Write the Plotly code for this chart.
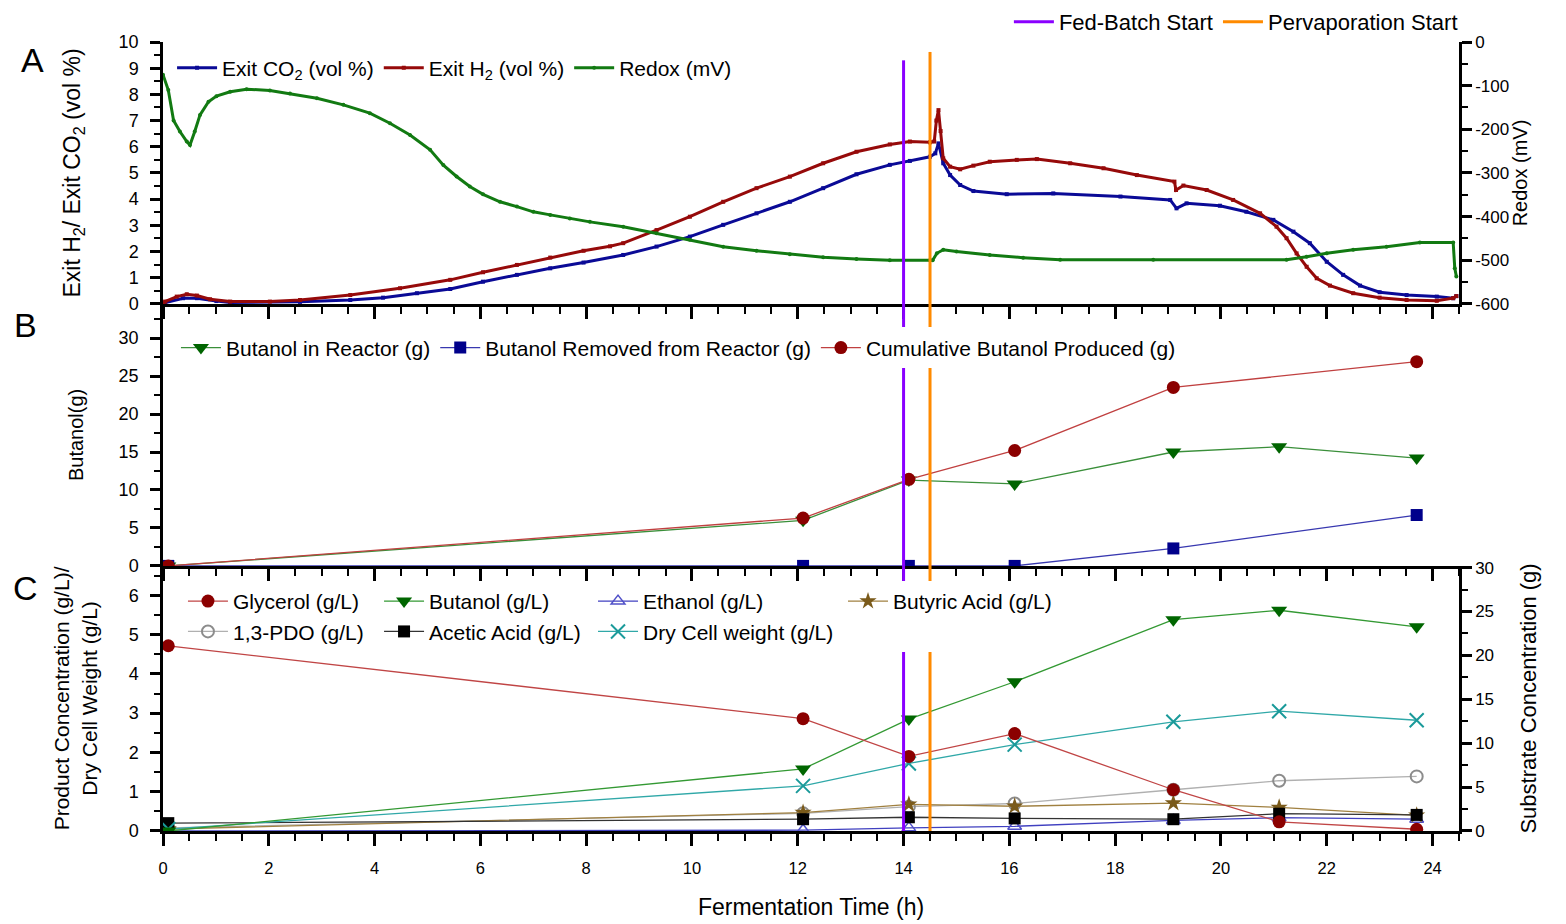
import plotly.graph_objects as go

FONT = "Liberation Sans, Arial, sans-serif"

# ---------------- Panel A: off-gas and redox (continuous) ----------------
T_CO2 = [0.0, 0.04, 0.38, 0.64, 1.01, 1.27, 2.59, 3.54, 4.16, 4.8, 5.43, 6.05, 6.69, 7.32, 7.95,
         8.7, 9.33, 9.96, 10.59, 11.22, 11.85, 12.48, 13.11, 13.74, 14.12, 14.5, 14.6, 14.66,
         14.75, 14.88, 15.07, 15.32, 15.95, 16.83, 18.1, 19.04, 19.16, 19.35, 19.98, 20.48,
         20.99, 21.37, 21.68, 22.0, 22.31, 22.63, 23.0, 23.51, 24.08, 24.39, 24.45]
CO2 = [0.0, 0.05, 0.22, 0.22, 0.11, 0.06, 0.08, 0.15, 0.24, 0.41, 0.57, 0.85, 1.11, 1.36, 1.58,
       1.87, 2.19, 2.57, 3.02, 3.46, 3.9, 4.42, 4.95, 5.31, 5.46, 5.62, 5.75, 6.13,
       5.37, 4.92, 4.54, 4.31, 4.19, 4.22, 4.1, 3.97, 3.65, 3.84, 3.75, 3.52,
       3.21, 2.76, 2.32, 1.61, 1.11, 0.7, 0.45, 0.34, 0.28, 0.22, 0.3]

T_H2 = [0.0, 0.04, 0.26, 0.45, 0.64, 0.89, 1.27, 2.02, 2.59, 3.54, 4.48, 5.43, 6.05, 6.69, 7.32,
        7.95, 8.45, 8.7, 9.33, 9.96, 10.59, 11.22, 11.85, 12.48, 13.11, 13.74, 14.12, 14.5,
        14.58, 14.62, 14.66, 14.7, 14.75, 14.88, 15.07, 15.32, 15.63, 16.14, 16.52, 17.15,
        17.78, 18.41, 19.12, 19.15, 19.29, 19.73, 20.23, 20.74, 21.05, 21.24, 21.43, 21.62,
        21.81, 22.06, 22.5, 23.0, 23.51, 24.08, 24.39, 24.45]
H2 = [0.0, 0.09, 0.28, 0.37, 0.32, 0.18, 0.09, 0.09, 0.15, 0.34, 0.6, 0.92, 1.21, 1.49, 1.77,
      2.03, 2.2, 2.32, 2.82, 3.33, 3.9, 4.42, 4.86, 5.37, 5.81, 6.09, 6.2, 6.17,
      6.2, 7.0, 7.4, 6.6, 5.56, 5.24, 5.14, 5.28, 5.43, 5.5, 5.53, 5.37,
      5.18, 4.92, 4.67, 4.35, 4.52, 4.35, 3.97, 3.46, 2.95, 2.51, 1.93, 1.42,
      0.98, 0.7, 0.41, 0.24, 0.15, 0.12, 0.22, 0.3]

T_REDOX = [0.0, 0.1, 0.2, 0.32, 0.45, 0.51, 0.6, 0.7, 0.86, 1.01, 1.27, 1.58, 2.02, 2.4, 2.91,
           3.41, 3.91, 4.29, 4.67, 5.05, 5.3, 5.55, 5.8, 6.05, 6.37, 6.69, 7.0, 7.32, 7.69,
           8.07, 8.7, 9.33, 9.96, 10.59, 11.22, 11.85, 12.48, 13.11, 13.74, 14.5, 14.55,
           14.63, 14.75, 15.0, 15.63, 16.26, 16.96, 18.72, 21.24, 21.62, 22.0, 22.5, 23.13,
           23.76, 24.39, 24.42, 24.45]
REDOX = [-75, -110, -180, -205, -228, -236, -205, -167, -137, -124, -114, -108, -111, -118, -129,
         -144, -163, -186, -213, -247, -282, -308, -331, -349, -366, -377, -389, -396, -404,
         -412, -423, -438, -453, -469, -478, -486, -493, -497, -500, -500, -500,
         -484, -476, -480, -488, -494, -499, -499, -499, -492, -484, -476, -469,
         -459, -459, -518, -537]

REDOX_TICKS = [0, -100, -200, -300, -400, -500, -600]
REDOX_TICK_LABELS = ["0", "-100", "-200", "-300", "-400", "-500", "-600"]

# ---------------- Panel B: butanol mass balance ----------------
T_B = [0.1, 12.1, 14.1, 16.1, 19.1, 21.1, 23.7]
BU_REACTOR = [0.0, 6.0, 11.3, 10.8, 15.0, 15.7, 14.2]
T_REMOVED = [0.1, 12.1, 14.1, 16.1, 19.1, 23.7]
BU_REMOVED = [0.0, 0.0, 0.0, 0.0, 2.3, 6.7]
T_CUM = [0.1, 12.1, 14.1, 16.1, 19.1, 23.7]
BU_CUM = [0.0, 6.3, 11.4, 15.2, 23.5, 26.9]

# ---------------- Panel C: concentrations ----------------
T_C = [0.1, 12.1, 14.1, 16.1, 19.1, 21.1, 23.7]
GLYCEROL_G = [21.1, 12.8, 8.5, 11.1, 4.7, 1.05, 0.2]   # right axis (g)
BUTANOL = [0.0, 1.58, 2.85, 3.8, 5.38, 5.62, 5.2]
ETHANOL = [0.0, 0.02, 0.08, 0.12, 0.27, 0.34, 0.3]
BUTYRIC = [0.05, 0.47, 0.68, 0.63, 0.71, 0.6, 0.4]
PDO = [0.08, 0.45, 0.62, 0.7, 1.05, 1.28, 1.39]
ACETIC = [0.2, 0.3, 0.35, 0.32, 0.3, 0.44, 0.41]
DCW = [0.05, 1.15, 1.72, 2.2, 2.78, 3.05, 2.82]

EVENT_NAMES = ["Fed-Batch Start", "Pervaporation Start"]
EVENT_TIMES = [14.0, 14.5]
EVENT_COLORS = ["#8a00ff", "#ff8a00"]

fig = go.Figure()

# Event legend (top)
for name, col in zip(EVENT_NAMES, EVENT_COLORS):
    fig.add_trace(go.Scatter(x=[None], y=[None], mode="lines", name=name,
                             line=dict(color=col, width=3), legend="legend",
                             xaxis="x", yaxis="y"))

# Panel A
fig.add_trace(go.Scatter(x=T_CO2, y=CO2, mode="lines+markers", name="Exit CO<sub>2</sub> (vol %)",
                         line=dict(color="#0a0a96", width=3),
                         marker=dict(symbol="square", size=4, color="#0a0a96"),
                         legend="legend2", xaxis="x", yaxis="y"))
fig.add_trace(go.Scatter(x=T_H2, y=H2, mode="lines+markers", name="Exit H<sub>2</sub> (vol %)",
                         line=dict(color="#960a0a", width=3),
                         marker=dict(symbol="square", size=4, color="#960a0a"),
                         legend="legend2", xaxis="x", yaxis="y"))
fig.add_trace(go.Scatter(x=T_REDOX, y=REDOX, mode="lines+markers", name="Redox (mV)",
                         line=dict(color="#127a12", width=3),
                         marker=dict(symbol="circle", size=4, color="#127a12"),
                         legend="legend2", xaxis="x", yaxis="y2"))

# Panel B
fig.add_trace(go.Scatter(x=T_B, y=BU_REACTOR, mode="lines+markers", name="Butanol in Reactor (g)",
                         line=dict(color="#3a8f3a", width=1.3),
                         marker=dict(symbol="triangle-down", size=14, color="#006400"),
                         legend="legend3", xaxis="x2", yaxis="y3"))
fig.add_trace(go.Scatter(x=T_REMOVED, y=BU_REMOVED, mode="lines+markers",
                         name="Butanol Removed from Reactor (g)",
                         line=dict(color="#3838b0", width=1.3),
                         marker=dict(symbol="square", size=12, color="#00008b"),
                         legend="legend3", xaxis="x2", yaxis="y3"))
fig.add_trace(go.Scatter(x=T_CUM, y=BU_CUM, mode="lines+markers", name="Cumulative Butanol Produced (g)",
                         line=dict(color="#c04040", width=1.3),
                         marker=dict(symbol="circle", size=13, color="#8b0000"),
                         legend="legend3", xaxis="x2", yaxis="y3"))

# Panel C
fig.add_trace(go.Scatter(x=T_C, y=PDO, mode="lines+markers", name="1,3-PDO (g/L)",
                         line=dict(color="#b0b0b0", width=1.3),
                         marker=dict(symbol="circle-open", size=12, color="#8c8c8c", line=dict(width=2)),
                         legend="legend4", xaxis="x3", yaxis="y5"))
fig.add_trace(go.Scatter(x=T_C, y=ETHANOL, mode="lines+markers", name="Ethanol (g/L)",
                         line=dict(color="#4040c0", width=1.3),
                         marker=dict(symbol="triangle-up-open", size=12, color="#5050c8", line=dict(width=1.5)),
                         legend="legend6", xaxis="x3", yaxis="y5"))
fig.add_trace(go.Scatter(x=T_C, y=BUTYRIC, mode="lines+markers", name="Butyric Acid (g/L)",
                         line=dict(color="#a08040", width=1.3),
                         marker=dict(symbol="star", size=13, color="#7a5a1a"),
                         legend="legend7", xaxis="x3", yaxis="y5"))
fig.add_trace(go.Scatter(x=T_C, y=ACETIC, mode="lines+markers", name="Acetic Acid (g/L)",
                         line=dict(color="#333333", width=1.3),
                         marker=dict(symbol="square", size=12, color="#000000"),
                         legend="legend5", xaxis="x3", yaxis="y5"))
fig.add_trace(go.Scatter(x=T_C, y=DCW, mode="lines+markers", name="Dry Cell weight (g/L)",
                         line=dict(color="#30a8a8", width=1.3),
                         marker=dict(symbol="x-thin", size=14, color="#1a9a9a",
                                     line=dict(width=2, color="#1a9a9a")),
                         legend="legend6", xaxis="x3", yaxis="y5"))
fig.add_trace(go.Scatter(x=T_C, y=BUTANOL, mode="lines+markers", name="Butanol (g/L)",
                         line=dict(color="#339933", width=1.3),
                         marker=dict(symbol="triangle-down", size=14, color="#006600"),
                         legend="legend5", xaxis="x3", yaxis="y5"))
fig.add_trace(go.Scatter(x=T_C, y=GLYCEROL_G, mode="lines+markers", name="Glycerol (g/L)",
                         line=dict(color="#c04545", width=1.3),
                         marker=dict(symbol="circle", size=13, color="#8b0000"),
                         legend="legend4", xaxis="x3", yaxis="y6"))
# blank row filler so that the Butyric legend box spans both rows
fig.add_trace(go.Scatter(x=[None], y=[None], mode="lines", name=" ",
                         line=dict(color="rgba(0,0,0,0)", width=1),
                         legend="legend7", xaxis="x3", yaxis="y5", hoverinfo="skip"))

# Event lines
shapes = []
for t, col in zip(EVENT_TIMES, EVENT_COLORS):
    top_a = 0.93 if t < 14.25 else 0.962
    shapes.append(dict(type="line", xref="x", yref="y domain", x0=t, x1=t, y0=0, y1=top_a,
                       line=dict(color=col, width=3)))
    shapes.append(dict(type="line", xref="x2", yref="y3 domain", x0=t, x1=t, y0=0, y1=1,
                       line=dict(color=col, width=3)))
    shapes.append(dict(type="line", xref="x3", yref="y5 domain", x0=t, x1=t, y0=0, y1=1,
                       line=dict(color=col, width=3)))

XR = [0, 24.5]


def tf(size):
    return dict(family=FONT, size=size, color="black")


def xax(anchor, labels=False, side="bottom", ticks="outside", overlay=None):
    d = dict(range=XR, anchor=anchor, domain=[0, 1], showline=True, linewidth=2.5, linecolor="black",
             ticks=ticks, ticklen=12, tickwidth=2.5, tickcolor="black", dtick=2, tick0=0,
             showticklabels=labels, tickfont=tf(16.5), showgrid=False, zeroline=False,
             automargin=False, side=side,
             minor=dict(dtick=0.5, ticklen=7, tickwidth=2, tickcolor="black", ticks=ticks))
    if overlay:
        d["overlaying"] = overlay
    return d


def yax(dom, rng, dtick, minor, side="left", overlay=None, anchor="x", labels=True, title=None,
        standoff=10, tsize=20, ksize=18, lstand=0):
    d = dict(range=rng, domain=dom, anchor=anchor, side=side, showline=True, linewidth=2.5,
             linecolor="black", ticks="outside", ticklen=10, tickwidth=2.5, tickcolor="black",
             dtick=dtick, tick0=0, showticklabels=labels, tickfont=tf(ksize), showgrid=False,
             zeroline=False, automargin=False, ticklabelstandoff=lstand,
             minor=dict(dtick=minor, ticklen=6, tickwidth=2, tickcolor="black", ticks="outside"))
    if overlay:
        d["overlaying"] = overlay
    if title:
        d["title"] = dict(text=title, font=tf(tsize), standoff=standoff)
    return d


DA = [0.668, 1.0]
DB = [0.336, 0.668]
DC = [0.0, 0.336]

yaxis2 = yax(DA, [-600, 0], 100, 50, side="right", overlay="y", title="Redox (mV)", standoff=4,
             tsize=20, ksize=17)
yaxis2.update(tickmode="array", tickvals=REDOX_TICKS, ticktext=REDOX_TICK_LABELS)

xaxis3 = xax("y5", labels=True)
xaxis3.update(ticklabelstandoff=8,
              title=dict(text="Fermentation Time (h)", font=tf(23), standoff=24))

CLEAR = "rgba(255,255,255,0)"


def leg(x, y, xanchor="left", yanchor="middle", orientation="v", size=21, bg="white", order="normal"):
    return dict(orientation=orientation, x=x, xanchor=xanchor, y=y, yanchor=yanchor,
                font=tf(size), bgcolor=bg, itemwidth=40, traceorder=order, itemclick=False)


def letter(txt, x, y):
    return dict(text=txt, x=x, y=y, xref="paper", yref="paper", showarrow=False,
                xanchor="center", yanchor="middle", font=tf(34))


# the page body adds an 8 px offset, so the figure is drawn 8 px smaller and margins are adjusted
fig.update_layout(
    width=1558, height=916,
    margin=dict(l=155, r=107, t=34, b=93, autoexpand=False),
    paper_bgcolor="white", plot_bgcolor="white",
    font=dict(family=FONT, size=19, color="black"),
    showlegend=True,
    xaxis=xax("y"),
    xaxis4=xax("y", side="top", ticks="inside", overlay="x"),
    xaxis2=xax("y3"),
    xaxis3=xaxis3,
    yaxis=yax(DA, [0, 10], 1, 0.5,
              title="Exit H<sub>2</sub>/ Exit CO<sub>2</sub> (vol %)", standoff=32, tsize=23, lstand=8),
    yaxis2=yaxis2,
    yaxis3=yax(DB, [0, 34.5], 5, 2.5, anchor="x2", title="Butanol(g)", standoff=30, tsize=20, lstand=8),
    yaxis4=yax(DB, [0, 13.1], 2, 1, side="right", overlay="y3", anchor="x2", labels=False),
    yaxis5=yax(DC, [0, 6.75], 1, 0.5, anchor="x3",
               title="Product Concentration (g/L)/<br>Dry Cell Weight (g/L)", standoff=26, tsize=21,
               lstand=8),
    yaxis6=yax(DC, [0, 30.2], 5, 2.5, side="right", overlay="y5", anchor="x3",
               title="Substrate Concentration (g)", standoff=28, tsize=22, ksize=17),
    shapes=shapes,
    legend=leg(1.003, 1.0253, xanchor="right", orientation="h", size=22, bg=CLEAR),
    legend2=leg(0.007, 0.967, orientation="h", bg=CLEAR),
    legend3=leg(0.010, 0.6122, orientation="h"),
    legend4=leg(0.0154, 0.2719, order="reversed", bg=CLEAR),
    legend5=leg(0.1667, 0.2719, order="reversed", bg=CLEAR),
    legend6=leg(0.3318, 0.2719, bg=CLEAR),
    legend7=leg(0.5247, 0.2719),
    annotations=[
        letter("A", -0.101, 0.977),
        letter("B", -0.106, 0.641),
        letter("C", -0.106, 0.308),
    ],
)

fig.write_html("out.html")
